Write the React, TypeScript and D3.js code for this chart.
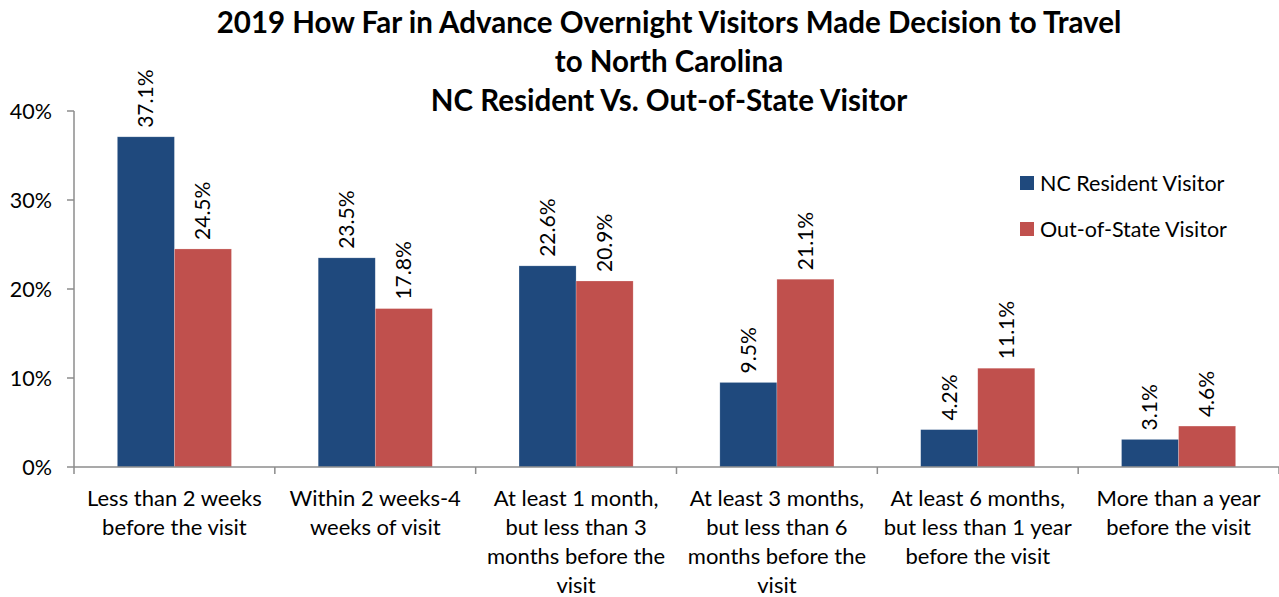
import React from 'react';
import * as d3 from 'd3';

const categories = ['lt2w', 'w2to4', 'm1to3', 'm3to6', 'm6to12', 'gt1y'];
const categoryLines = [
  ['Less than 2 weeks', 'before the visit'],
  ['Within 2 weeks-4', 'weeks of visit'],
  ['At least 1 month,', 'but less than 3', 'months before the', 'visit'],
  ['At least 3 months,', 'but less than 6', 'months before the', 'visit'],
  ['At least 6 months,', 'but less than 1 year', 'before the visit'],
  ['More than a year', 'before the visit'],
];
const seriesNames = ['NC Resident Visitor', 'Out-of-State Visitor'];
const ncResident = [37.1, 23.5, 22.6, 9.5, 4.2, 3.1];
const outOfState = [24.5, 17.8, 20.9, 21.1, 11.1, 4.6];
const yTicks = [0, 10, 20, 30, 40];
const titleLines = [
  '2019 How Far in Advance Overnight Visitors Made Decision to Travel',
  'to North Carolina',
  'NC Resident Vs. Out-of-State Visitor',
];

const colors = ['#1F497D', '#C0504D'];
const font = 'Lato, "Open Sans", sans-serif';
const axisColor = '#8C8C8C';

const W = 1279;
const H = 597;
const left = 74;
const right = 1279;
const top = 111;
const bottom = 467;

export default function App() {
  const series = [ncResident, outOfState];

  const x0 = d3.scaleBand().domain(categories).range([left, right]).padding(0);
  const x1 = d3
    .scaleBand()
    .domain(seriesNames)
    .range([0, x0.bandwidth()])
    .paddingInner(0)
    .paddingOuter(0.76);
  const y = d3.scaleLinear().domain([0, 40]).range([bottom, top]);

  return (
    <svg
      width={W}
      height={H}
      style={{ position: 'absolute', left: 0, top: 0, background: '#fff' }}
      fontFamily={font}
    >
      {/* title */}
      {titleLines.map((t, i) => (
        <text
          key={t}
          x={669}
          y={33 + i * 39}
          textAnchor="middle"
          fontSize={29.5}
          fontWeight="bold"
          fill="#000"
        >
          {t}
        </text>
      ))}

      {/* y axis */}
      <line x1={left} x2={left} y1={top} y2={bottom + 7} stroke={axisColor} strokeWidth={1.5} />
      {yTicks.map((t) => (
        <g key={t}>
          <line x1={left - 7} x2={left} y1={y(t)} y2={y(t)} stroke={axisColor} strokeWidth={1.5} />
          <text x={52} y={y(t)} dy="0.35em" textAnchor="end" fontSize={21.5} fill="#000">
            {t}%
          </text>
        </g>
      ))}

      {/* bars */}
      {categories.map((c, i) => (
        <g key={c} transform={`translate(${x0(c)},0)`}>
          {seriesNames.map((s, j) => {
            const v = series[j][i];
            const bx = x1(s)!;
            const cx = bx + x1.bandwidth() / 2;
            return (
              <g key={s}>
                <rect
                  x={bx}
                  y={y(v)}
                  width={x1.bandwidth()}
                  height={bottom - y(v)}
                  fill={colors[j]}
                  stroke="#fff"
                  strokeOpacity={0.35}
                  strokeWidth={0.6}
                />
                <text
                  transform={`translate(${cx},${y(v) - 9}) rotate(-90)`}
                  dy="0.35em"
                  fontSize={21}
                  fill="#000"
                >
                  {v.toFixed(1)}%
                </text>
              </g>
            );
          })}
        </g>
      ))}

      {/* x axis */}
      <line x1={left} x2={right} y1={bottom} y2={bottom} stroke={axisColor} strokeWidth={1.5} />
      {categories.map((c, i) => (
        <g key={c}>
          <line
            x1={x0(c)! + x0.bandwidth()}
            x2={x0(c)! + x0.bandwidth()}
            y1={bottom}
            y2={bottom + 7}
            stroke={axisColor}
            strokeWidth={1.5}
          />
          <text
            x={x0(c)! + x0.bandwidth() / 2}
            y={506}
            textAnchor="middle"
            fontSize={22}
            fill="#000"
          >
            {categoryLines[i].map((l, k) => (
              <tspan key={k} x={x0(c)! + x0.bandwidth() / 2} dy={k === 0 ? 0 : 29}>
                {l}
              </tspan>
            ))}
          </text>
        </g>
      ))}

      {/* legend */}
      {seriesNames.map((s, j) => (
        <g key={s} transform={`translate(1020,${183 + j * 46})`}>
          <rect x={0} y={-7} width={14} height={14} fill={colors[j]} />
          <text x={20} y={0} dy="0.35em" fontSize={21.5} fill="#000">
            {s}
          </text>
        </g>
      ))}
    </svg>
  );
}
